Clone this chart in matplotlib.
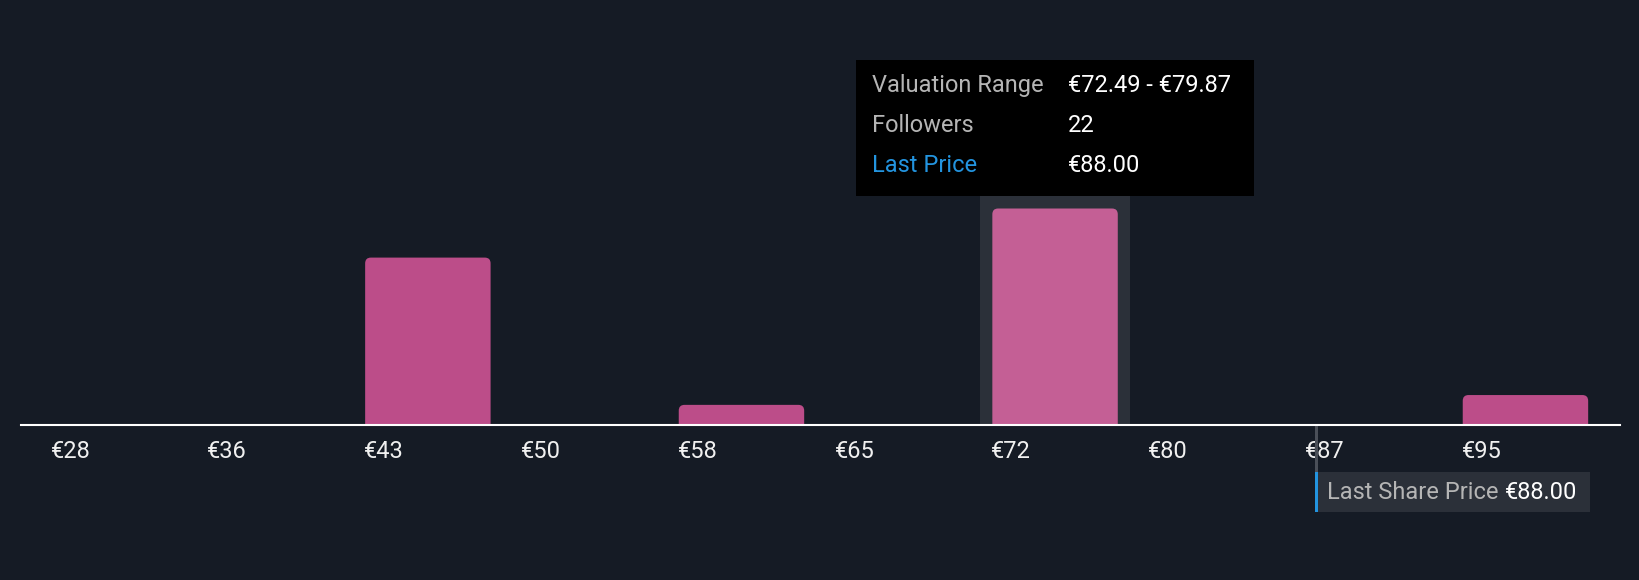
import matplotlib
matplotlib.use("Agg")
import matplotlib.pyplot as plt
from matplotlib.patches import FancyBboxPatch, Rectangle

# Данные
bin_starts = [28.21, 35.59, 42.97, 50.35, 57.73, 65.11, 72.49, 79.87, 87.25, 94.63]
bin_width = 7.38
tick_labels = ["€28", "€36", "€43", "€50", "€58", "€65", "€72", "€80", "€87", "€95"]
followers = [0, 0, 17, 0, 2, 0, 22, 0, 0, 3]
highlight = 6
last_price = 88.00

# Цвета
bg = "#151b25"
bar_col = "#bc4d89"
bar_hi = "#c45f95"
band_col = "#2b3039"
grey_txt = "#b5b5b5"
blue = "#2394df"
fs = 17

plt.rcParams["font.family"] = ["Roboto", "DejaVu Sans"]

W, H = 1640, 580
fig = plt.figure(figsize=(W / 100, H / 100), dpi=100, facecolor=bg)

# оси в пикселях
ax_l, ax_r, ax_b, ax_t = 21, 1620, 580 - 424.5, 560
ax = fig.add_axes([ax_l / W, ax_b / H, (ax_r - ax_l) / W, (ax_t - ax_b) / H])
ax.set_facecolor(bg)
ax.set_xlim(27.51, 102.77)
ax.set_ylim(0, 41.2)
for s in ax.spines.values():
    s.set_visible(False)
ax.set_xticks([])
ax.set_yticks([])

bar_w = bin_width * 0.8

# подсветка выбранного интервала (до нижнего края подсказки)
c_hi = bin_starts[highlight] + bin_width / 2
ax.add_patch(Rectangle((c_hi - bin_width * 0.478, 0), bin_width * 0.956, 23.3,
                       color=band_col, zorder=1, lw=0))

# столбцы
for i, (x0, n) in enumerate(zip(bin_starts, followers)):
    if n == 0:
        continue
    c = x0 + bin_width / 2
    p = FancyBboxPatch((c - bar_w / 2, -1), bar_w, n + 1,
                       boxstyle="round,pad=0,rounding_size=0.27",
                       mutation_aspect=2.18,
                       fc=bar_hi if i == highlight else bar_col, ec="none", zorder=2)
    ax.add_patch(p)

# ось x
ax.axhline(0, color="white", lw=1.5, zorder=3, clip_on=False)

# подписи
for x0, lab in zip(bin_starts, tick_labels):
    ax.annotate(lab, xy=(x0 + bin_width / 2 - bar_w / 2, 0), xycoords="data",
                xytext=(-1, -33), textcoords="offset pixels",
                ha="left", va="baseline", color="#f0f0f0", fontsize=fs,
                annotation_clip=False)

fig.canvas.draw()
lx, ly = ax.transData.transform((last_price, 0))
lx += 10

# линия последней цены и метка
fig.add_artist(Rectangle((lx - 1.5, H - 472), 3, ly - (H - 472) - 1,
                         transform=None, color="#4a4f58", lw=0))
fig.add_artist(Rectangle((lx - 1.5, H - 512), 275, 40, transform=None,
                         color="#2b3039", lw=0))
fig.add_artist(Rectangle((lx - 1.5, H - 512), 3, 40, transform=None,
                         color=blue, lw=0))
fig.text((lx + 10.5) / W, (H - 499) / H, "Last Share Price", color=grey_txt,
         fontsize=fs, va="baseline", ha="left")
fig.text((lx + 188.5) / W, (H - 499) / H, "€88.00", color="white",
         fontsize=fs, va="baseline", ha="left")

# подсказка
fig.add_artist(Rectangle((856, H - 196), 398, 136, transform=None,
                         color="black", lw=0, zorder=5))
rows = [("Valuation Range", "€72.49 - €79.87", grey_txt),
        ("Followers", "22", grey_txt),
        ("Last Price", "€88.00", blue)]
for k, (a, b, col) in enumerate(rows):
    yb = (H - (92 + 40 * k)) / H
    fig.text(872 / W, yb, a, color=col, fontsize=fs, va="baseline", zorder=6)
    fig.text(1068 / W, yb, b, color="white", fontsize=fs, va="baseline", zorder=6)

fig.savefig("out.png", dpi=100, facecolor=bg)
